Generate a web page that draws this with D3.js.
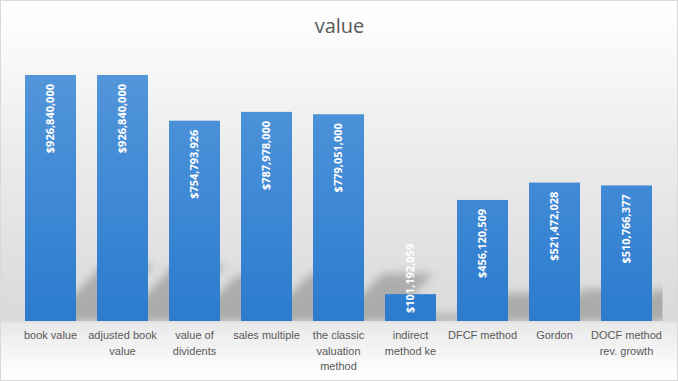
<!DOCTYPE html>
<html>
<head>
<meta charset="utf-8">
<script src="https://cdn.jsdelivr.net/npm/d3@7"></script>
<style>
  html, body { margin: 0; padding: 0; background: #fff; }
  svg { display: block; }
</style>
</head>
<body>
<div id="chart"></div>
<script>
const title = "value";
const categories = [
  "book value", "adjusted book value", "value of dividents", "sales multiple",
  "the classic valuation method", "indirect method ke", "DFCF method", "Gordon",
  "DOCF method rev. growth"
];
const values = [926840000, 926840000, 754793926, 787978000, 779051000, 101192059, 456120509, 521472028, 510766377];

const W = 678, H = 381;
const svg = d3.select("#chart").append("svg").attr("width", W).attr("height", H);
const defs = svg.append("defs");

// background gradient
const bg = defs.append("linearGradient").attr("id", "bg")
  .attr("gradientUnits", "userSpaceOnUse").attr("x1", 0).attr("y1", 0).attr("x2", 0).attr("y2", H);
[[0, "#ffffff"], [30, "#fcfcfc"], [150, "#ececec"], [250, "#e1e1e1"], [320, "#d9d9d9"],
 [324, "#e9e9e9"], [350, "#f4f4f4"], [375, "#fefefe"], [381, "#ffffff"]]
  .forEach(([y, c]) => bg.append("stop").attr("offset", y / H).attr("stop-color", c));

const x = d3.scaleBand().domain(categories).range([14.5, 662.5]).paddingInner(21 / 72).paddingOuter(21 / 144);
const y = d3.scaleLinear().domain([0, 1e9]).range([321, 55.6]);
const base = y(0);

// bar gradient
const bar = defs.append("linearGradient").attr("id", "bar")
  .attr("gradientUnits", "userSpaceOnUse").attr("x1", 0).attr("y1", y(1e9)).attr("x2", 0).attr("y2", base);
bar.append("stop").attr("offset", 0).attr("stop-color", "#5598db");
bar.append("stop").attr("offset", 1).attr("stop-color", "#2c7bcf");

defs.append("filter").attr("id", "blur").attr("x", "-50%").attr("y", "-50%").attr("width", "200%").attr("height", "200%")
  .append("feGaussianBlur").attr("stdDeviation", 4);
defs.append("clipPath").attr("id", "plotclip").append("rect")
  .attr("x", x.range()[0]).attr("y", 40).attr("width", x.range()[1] - x.range()[0]).attr("height", base - 40);

svg.append("rect").attr("x", 0.5).attr("y", 0.5).attr("width", W - 1).attr("height", H - 1)
  .attr("fill", "url(#bg)").attr("stroke", "#d9d9d9");

svg.append("text").attr("x", 339.5).attr("y", 33).attr("text-anchor", "middle")
  .attr("font-family", "'Open Sans', 'Liberation Sans', Arial, sans-serif").attr("font-size", 20)
  .attr("fill", "#595959").text(title);

const data = categories.map((c, i) => ({ c, v: values[i] }));

// shadows
const sScale = 0.23, skew = 0.95, dOff = 24;
svg.append("g").attr("clip-path", "url(#plotclip)")
  .append("g").attr("filter", "url(#blur)")
  .selectAll("polygon").data(data).join("polygon")
  .attr("points", d => {
    const x0 = x(d.c) + dOff, x1 = x0 + x.bandwidth();
    const hs = (base - y(d.v)) * sScale;
    return [[x0, base], [x1, base], [x1 + skew * hs, base - hs], [x0 + skew * hs, base - hs]].join(" ");
  })
  .attr("fill", "#000").attr("fill-opacity", 0.22);

// bars
svg.append("g").selectAll("rect").data(data).join("rect")
  .attr("x", d => x(d.c)).attr("y", d => y(d.v))
  .attr("width", x.bandwidth()).attr("height", d => base - y(d.v))
  .attr("fill", "url(#bar)");

// value labels
const fmt = v => "$" + d3.format(",")(v);
svg.append("g").selectAll("text").data(data).join("text")
  .attr("font-family", "'Open Sans', 'Liberation Sans', Arial, sans-serif").attr("font-size", 11)
  .attr("font-weight", "bold").attr("fill", "#ffffff")
  .each(function (d) {
    const t = d3.select(this).text(fmt(d.v));
    const len = this.getComputedTextLength();
    const cx = x(d.c) + x.bandwidth() / 2;
    const h = base - y(d.v);
    if (h >= len + 18) {
      t.attr("text-anchor", "end").attr("transform", `translate(${cx},${y(d.v) + 9}) rotate(-90)`);
    } else {
      t.attr("text-anchor", "start").attr("transform", `translate(${cx},${base - 8}) rotate(-90)`);
    }
    t.attr("dy", "0.36em");
  });

// category labels
const xAxis = svg.append("g").attr("transform", `translate(0,${base})`)
  .call(d3.axisBottom(x).tickSize(0).tickPadding(0));
xAxis.select(".domain").remove();
xAxis.selectAll(".tick text")
  .attr("font-family", "'Liberation Sans', Arial, sans-serif").attr("font-size", 11)
  .attr("fill", "#595959").attr("y", 18).attr("dy", 0)
  .each(function () {
    const el = d3.select(this);
    const words = el.text().split(/\s+/);
    el.text(null);
    const maxW = x.step();
    let lines = [], line = [];
    const probe = el.append("tspan");
    words.forEach(w => {
      const test = line.concat(w).join(" ");
      probe.text(test);
      if (this.getComputedTextLength() > maxW && line.length) {
        lines.push(line.join(" "));
        line = [w];
      } else line.push(w);
    });
    lines.push(line.join(" "));
    probe.remove();
    lines.forEach((l, i) => el.append("tspan").attr("x", 0).attr("y", 18 + i * 15.5).text(l));
  });
</script>
</body>
</html>
